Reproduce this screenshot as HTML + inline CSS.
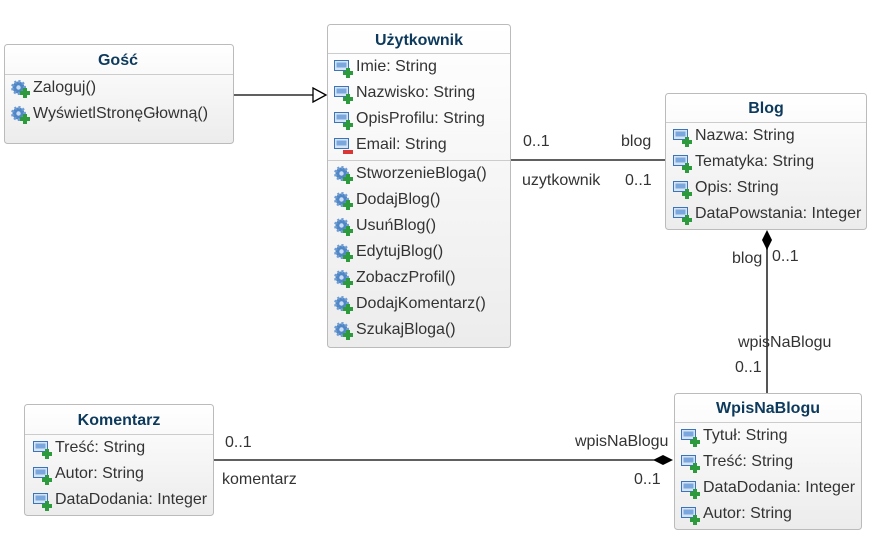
<!DOCTYPE html>
<html><head><meta charset="utf-8"><style>
html,body{margin:0;padding:0;background:#fff;}
svg{display:block;font-family:"Liberation Sans",Arial,sans-serif;}
.t{font-size:16px;fill:#333;}
.h{font-size:16px;font-weight:bold;fill:#0d3a5c;text-anchor:middle;}
</style></head><body>
<svg width="894" height="546" viewBox="0 0 894 546" xmlns="http://www.w3.org/2000/svg">
<defs>
<linearGradient id="g" x1="0" y1="0" x2="0" y2="1"><stop offset="0" stop-color="#ffffff"/><stop offset="1" stop-color="#ececec"/></linearGradient>
<symbol id="a" viewBox="0 0 20 20" width="20" height="20">
<rect x="0.5" y="0.5" width="14" height="10" fill="#d6e5f6" stroke="#3b74b8"/>
<rect x="2.5" y="2.5" width="10" height="5" fill="#7aa8de"/>
<rect x="12" y="8" width="4" height="10" fill="#2e9a3e"/><rect x="9" y="11" width="10" height="4" fill="#2e9a3e"/>
</symbol>
<symbol id="am" viewBox="0 0 20 20" width="20" height="20">
<rect x="0.5" y="0.5" width="14" height="10" fill="#d6e5f6" stroke="#3b74b8"/>
<rect x="2.5" y="2.5" width="10" height="5" fill="#7aa8de"/>
<rect x="9" y="12" width="10" height="4" fill="#d93636"/>
</symbol>
<symbol id="m" viewBox="0 0 20 20" width="20" height="20">
<circle cx="7.5" cy="7.5" r="6" fill="#4f86c6" stroke="#6d9bd3" stroke-width="3" stroke-dasharray="2 2"/>
<circle cx="7.5" cy="7.5" r="2.2" fill="#c9dcf2"/>
<rect x="12" y="8" width="4" height="10" fill="#2e9a3e"/><rect x="9" y="11" width="10" height="4" fill="#2e9a3e"/>
</symbol>
</defs>

<line x1="233" y1="95" x2="313" y2="95" stroke="#000" stroke-width="1.3"/>
<polygon points="313,88 326,95 313,102" fill="#fff" stroke="#000" stroke-width="1.3"/>
<line x1="510" y1="160" x2="665" y2="160" stroke="#000" stroke-width="1.3"/>
<line x1="767" y1="248" x2="767" y2="393" stroke="#555" stroke-width="2"/>
<polygon points="767,230 772,240 767,250 762,240" fill="#000"/>
<line x1="213" y1="460" x2="655" y2="460" stroke="#000" stroke-width="1.3"/>
<polygon points="653,460 663,455 673,460 663,465" fill="#000"/>

<g class="t">
<text x="523" y="146">0..1</text><text x="621" y="146">blog</text>
<text x="522" y="185">uzytkownik</text><text x="625" y="185">0..1</text>
<text x="732" y="263">blog</text><text x="772" y="261">0..1</text>
<text x="738" y="347">wpisNaBlogu</text><text x="735" y="372">0..1</text>
<text x="225" y="447">0..1</text><text x="575" y="446">wpisNaBlogu</text>
<text x="222" y="484">komentarz</text><text x="634" y="484">0..1</text>
</g>

<rect x="4.5" y="44.5" width="229" height="99" rx="3" fill="url(#g)" stroke="#bbb"/>
<line x1="5" y1="74.5" x2="233" y2="74.5" stroke="#ccc"/>
<text class="h" x="118" y="65">Gość</text>
<use href="#m" x="11" y="80"/><text class="t" x="33" y="92">Zaloguj()</text>
<use href="#m" x="11" y="106"/><text class="t" x="33" y="118">WyświetlStronęGłowną()</text>

<rect x="327.5" y="24.5" width="183" height="323" rx="3" fill="url(#g)" stroke="#bbb"/>
<line x1="328" y1="53.5" x2="510" y2="53.5" stroke="#ccc"/>
<line x1="328" y1="160.5" x2="510" y2="160.5" stroke="#ccc"/>
<text class="h" x="419" y="45">Użytkownik</text>
<use href="#a" x="334" y="60"/><text class="t" x="356" y="71">Imie: String</text>
<use href="#a" x="334" y="86"/><text class="t" x="356" y="97">Nazwisko: String</text>
<use href="#a" x="334" y="112"/><text class="t" x="356" y="123">OpisProfilu: String</text>
<use href="#am" x="334" y="138"/><text class="t" x="356" y="149">Email: String</text>
<use href="#m" x="334" y="166"/><text class="t" x="356" y="178">StworzenieBloga()</text>
<use href="#m" x="334" y="192"/><text class="t" x="356" y="204">DodajBlog()</text>
<use href="#m" x="334" y="218"/><text class="t" x="356" y="230">UsuńBlog()</text>
<use href="#m" x="334" y="244"/><text class="t" x="356" y="256">EdytujBlog()</text>
<use href="#m" x="334" y="270"/><text class="t" x="356" y="282">ZobaczProfil()</text>
<use href="#m" x="334" y="296"/><text class="t" x="356" y="308">DodajKomentarz()</text>
<use href="#m" x="334" y="322"/><text class="t" x="356" y="334">SzukajBloga()</text>

<rect x="665.5" y="93.5" width="201" height="136" rx="3" fill="url(#g)" stroke="#bbb"/>
<line x1="666" y1="122.5" x2="866" y2="122.5" stroke="#ccc"/>
<text class="h" x="766" y="113">Blog</text>
<use href="#a" x="673" y="129"/><text class="t" x="695" y="140">Nazwa: String</text>
<use href="#a" x="673" y="155"/><text class="t" x="695" y="166">Tematyka: String</text>
<use href="#a" x="673" y="181"/><text class="t" x="695" y="192">Opis: String</text>
<use href="#a" x="673" y="207"/><text class="t" x="695" y="218">DataPowstania: Integer</text>

<rect x="674.5" y="393.5" width="187" height="136" rx="3" fill="url(#g)" stroke="#bbb"/>
<line x1="675" y1="422.5" x2="861" y2="422.5" stroke="#ccc"/>
<text class="h" x="768" y="413">WpisNaBlogu</text>
<use href="#a" x="681" y="429"/><text class="t" x="703" y="440">Tytuł: String</text>
<use href="#a" x="681" y="455"/><text class="t" x="703" y="466">Treść: String</text>
<use href="#a" x="681" y="481"/><text class="t" x="703" y="492">DataDodania: Integer</text>
<use href="#a" x="681" y="507"/><text class="t" x="703" y="518">Autor: String</text>

<rect x="24.5" y="404.5" width="189" height="111" rx="3" fill="url(#g)" stroke="#bbb"/>
<line x1="25" y1="434.5" x2="213" y2="434.5" stroke="#ccc"/>
<text class="h" x="119" y="425">Komentarz</text>
<use href="#a" x="33" y="441"/><text class="t" x="55" y="452">Treść: String</text>
<use href="#a" x="33" y="467"/><text class="t" x="55" y="478">Autor: String</text>
<use href="#a" x="33" y="493"/><text class="t" x="55" y="504">DataDodania: Integer</text>
</svg>
</body></html>
